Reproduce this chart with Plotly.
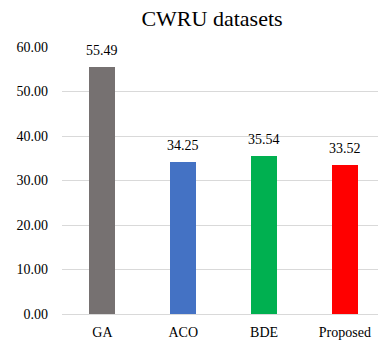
import plotly.graph_objects as go

categories = ["GA", "ACO", "BDE", "Proposed"]
values = [55.49, 34.25, 35.54, 33.52]
colors = ["#767171", "#4472C4", "#00B050", "#FF0000"]
tick_vals = [0, 10, 20, 30, 40, 50, 60]
tick_text = ["0.00", "10.00", "20.00", "30.00", "40.00", "50.00", "60.00"]

font = "Liberation Serif, Times New Roman, serif"

fig = go.Figure(go.Bar(
    x=categories, y=values,
    marker=dict(color=colors, line=dict(width=0)),
    width=0.32,
))

for c, v in zip(categories, values):
    fig.add_annotation(x=c, y=v, text=f"{v:.2f}", showarrow=False,
                       yanchor="bottom", yshift=7,
                       font=dict(family=font, size=14, color="#000000"))

fig.update_layout(
    width=378, height=343,
    margin=dict(l=62, r=0, t=47, b=29),
    paper_bgcolor="white", plot_bgcolor="white",
    title=dict(text="CWRU datasets", x=212/378, xanchor="center", y=1-26/343, yanchor="bottom",
               font=dict(family=font, size=22, color="#000000")),
    showlegend=False,
    bargap=0,
)
fig.update_xaxes(range=[-0.5, 3.41], showgrid=False, showline=False, ticks="",
                 ticklabelstandoff=8,
                 tickfont=dict(family=font, size=14, color="#000000"))
fig.update_yaxes(range=[0, 60], tickvals=tick_vals, ticktext=tick_text,
                 showgrid=True, gridcolor="#D9D9D9", gridwidth=1, zeroline=True,
                 zerolinecolor="#D9D9D9", zerolinewidth=1, showline=False, ticks="",
                 ticklabelstandoff=13,
                 tickfont=dict(family=font, size=14, color="#000000"))

fig.write_html("out.html")
